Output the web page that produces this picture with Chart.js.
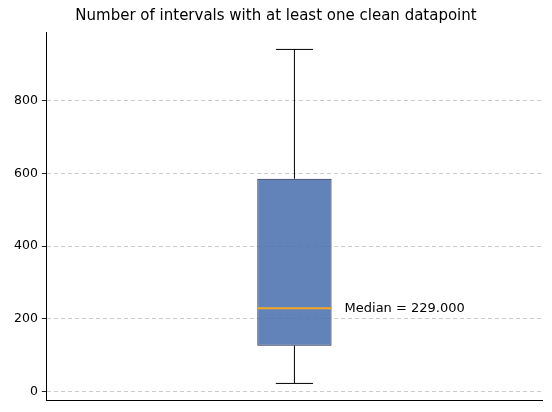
<!DOCTYPE html>
<html>
<head>
<meta charset="utf-8">
<script src="https://cdn.jsdelivr.net/npm/chart.js@4/dist/chart.umd.min.js"></script>
<style>
  body { margin: 0; background: #fff; }
  #wrap { width: 552px; height: 412px; }
</style>
</head>
<body>
<div id="wrap"><canvas id="chart"></canvas></div>
<script>
const labels = ['clean'];
const whiskerLow = [22];
const q1 = [126];
const median = [229];
const q3 = [586];
const whiskerHigh = [942];
const yTicks = [0, 200, 400, 600, 800];

// whiskers, caps, median line and label on top of the floating bar
const boxExtras = {
  id: 'boxExtras',
  afterDatasetsDraw(chart) {
    const ctx = chart.ctx;
    const y = chart.scales.y;
    const meta = chart.getDatasetMeta(0);
    meta.data.forEach((bar, i) => {
      const cx = bar.x;
      const half = bar.width / 2;
      const capHalf = half / 2;
      ctx.save();
      ctx.strokeStyle = '#000';
      ctx.lineWidth = 1;
      ctx.beginPath();
      ctx.moveTo(cx, y.getPixelForValue(q3[i]));
      ctx.lineTo(cx, y.getPixelForValue(whiskerHigh[i]));
      ctx.moveTo(cx - capHalf, y.getPixelForValue(whiskerHigh[i]));
      ctx.lineTo(cx + capHalf, y.getPixelForValue(whiskerHigh[i]));
      ctx.moveTo(cx, y.getPixelForValue(q1[i]));
      ctx.lineTo(cx, y.getPixelForValue(whiskerLow[i]));
      ctx.moveTo(cx - capHalf, y.getPixelForValue(whiskerLow[i]));
      ctx.lineTo(cx + capHalf, y.getPixelForValue(whiskerLow[i]));
      ctx.stroke();

      const my = y.getPixelForValue(median[i]);
      ctx.strokeStyle = '#f5a623';
      ctx.lineWidth = 2;
      ctx.beginPath();
      ctx.moveTo(cx - half, my);
      ctx.lineTo(cx + half, my);
      ctx.stroke();

      ctx.fillStyle = '#000';
      ctx.font = '13px "DejaVu Sans"';
      ctx.textBaseline = 'middle';
      ctx.fillText('Median = ' + median[i].toFixed(3), cx + half + 13, my);
      ctx.restore();
    });
  }
};

new Chart(document.getElementById('chart'), {
  type: 'bar',
  data: {
    labels: labels,
    datasets: [{
      data: labels.map((_, i) => [q1[i], q3[i]]),
      backgroundColor: 'rgba(76,114,176,0.88)',
      borderColor: '#1c2340',
      borderWidth: 1,
      borderSkipped: false,
      barPercentage: 0.15,
      categoryPercentage: 1
    }]
  },
  options: {
    responsive: true,
    maintainAspectRatio: false,
    animation: false,
    layout: { padding: { left: 10, right: 10, top: 3, bottom: 1 } },
    plugins: {
      legend: { display: false },
      tooltip: { enabled: false },
      title: {
        display: true,
        text: 'Number of intervals with at least one clean datapoint',
        color: '#000',
        font: { family: 'DejaVu Sans', size: 15, weight: 'normal' },
        padding: { top: 4, bottom: 7 }
      }
    },
    scales: {
      x: {
        grid: { display: false },
        border: { color: '#000' },
        ticks: { display: false }
      },
      y: {
        min: -25,
        max: 990,
        afterBuildTicks: axis => { axis.ticks = yTicks.map(v => ({ value: v })); },
        border: { color: '#000', dash: [4, 3] },
        grid: {
          color: '#cccccc',
          tickColor: '#000',
          tickLength: 5,
          tickBorderDash: [1, 0]
        },
        ticks: {
          color: '#000',
          font: { family: 'DejaVu Sans', size: 12.5 },
          padding: 4
        }
      }
    }
  },
  plugins: [boxExtras]
});
</script>
</body>
</html>
